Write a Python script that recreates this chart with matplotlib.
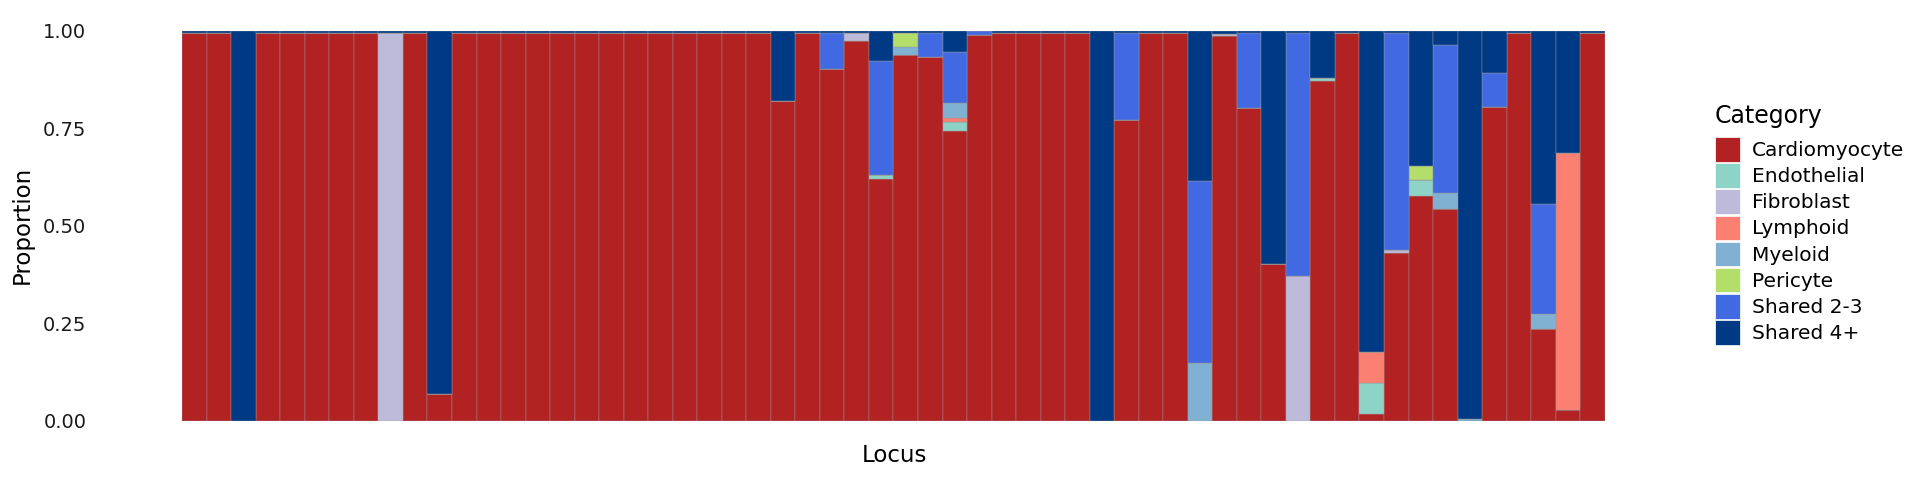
import matplotlib.pyplot as plt
from matplotlib.patches import Patch

# categorias (ordem de empilhamento, de baixo para cima)
categorias = ["Cardiomyocyte", "Endothelial", "Fibroblast", "Lymphoid",
              "Myeloid", "Pericyte", "Shared 2-3", "Shared 4+"]
cores = ["#B22222", "#8DD3C7", "#BEBADA", "#FB8072",
         "#80B1D3", "#B3DE69", "#4169E1", "#003A85"]

# proporcao de cada categoria por locus (58 loci)
cardiomyocyte = [.993, .993, 0, .993, .993, .993, .993, .993, 0, .993,
                 .068, .993, .993, .993, .993, .993, .993, .993, .993, .993,
                 .993, .993, .993, .993, .821, .993, .902, .973, .621, .939,
                 .932, .744, .990, .993, .993, .993, .993, 0, .772, .993,
                 .993, 0, .987, .801, .403, 0, .872, .993, .018, .431,
                 .577, .544, 0, .804, .993, .236, .028, .993]
endothelial = [0, 0, 0, 0, 0, 0, 0, 0, 0, 0,
               0, 0, 0, 0, 0, 0, 0, 0, 0, 0,
               0, 0, 0, 0, 0, 0, 0, 0, .008, 0,
               0, .022, 0, 0, 0, 0, 0, 0, 0, 0,
               0, 0, 0, 0, 0, 0, .007, 0, .078, 0,
               .039, 0, 0, 0, 0, 0, 0, 0]
fibroblast = [0, 0, 0, 0, 0, 0, 0, 0, .993, 0,
              0, 0, 0, 0, 0, 0, 0, 0, 0, 0,
              0, 0, 0, 0, 0, 0, 0, .020, 0, 0,
              0, 0, 0, 0, 0, 0, 0, 0, 0, 0,
              0, 0, .004, 0, 0, .372, 0, 0, 0, .008,
              0, 0, 0, 0, 0, 0, 0, 0]
lymphoid = [0, 0, 0, 0, 0, 0, 0, 0, 0, 0,
            0, 0, 0, 0, 0, 0, 0, 0, 0, 0,
            0, 0, 0, 0, 0, 0, 0, 0, 0, 0,
            0, .009, 0, 0, 0, 0, 0, 0, 0, 0,
            0, 0, 0, 0, 0, 0, 0, 0, .080, 0,
            0, 0, 0, 0, 0, 0, .658, 0]
myeloid = [0, 0, 0, 0, 0, 0, 0, 0, 0, 0,
           0, 0, 0, 0, 0, 0, 0, 0, 0, 0,
           0, 0, 0, 0, 0, 0, 0, 0, 0, .018,
           0, .039, 0, 0, 0, 0, 0, 0, 0, 0,
           0, .147, 0, 0, 0, 0, 0, 0, 0, 0,
           0, .041, .004, 0, 0, .038, 0, 0]
pericyte = [0, 0, 0, 0, 0, 0, 0, 0, 0, 0,
            0, 0, 0, 0, 0, 0, 0, 0, 0, 0,
            0, 0, 0, 0, 0, 0, 0, 0, 0, .036,
            0, 0, 0, 0, 0, 0, 0, 0, 0, 0,
            0, 0, 0, 0, 0, 0, 0, 0, 0, 0,
            .037, 0, 0, 0, 0, 0, 0, 0]
shared23 = [0, 0, 0, 0, 0, 0, 0, 0, 0, 0,
            0, 0, 0, 0, 0, 0, 0, 0, 0, 0,
            0, 0, 0, 0, 0, 0, .091, 0, .294, 0,
            .061, .131, .010, 0, 0, 0, 0, 0, .221, 0,
            0, .467, 0, .192, 0, .621, 0, 0, 0, .554,
            0, .379, 0, .088, 0, .282, 0, 0]
shared4 = [.007, .007, 1, .007, .007, .007, .007, .007, .007, .007,
           .932, .007, .007, .007, .007, .007, .007, .007, .007, .007,
           .007, .007, .007, .007, .179, .007, .007, .007, .077, .007,
           .007, .055, 0, .007, .007, .007, .007, 1, .007, .007,
           .007, .386, .009, .007, .597, .007, .121, .007, .824, .007,
           .347, .036, .996, .108, .007, .444, .314, .007]

series = [cardiomyocyte, endothelial, fibroblast, lymphoid,
          myeloid, pericyte, shared23, shared4]
loci = list(range(len(cardiomyocyte)))

fig = plt.figure(figsize=(19.2, 4.8), dpi=100)
ax = fig.add_axes([0.0949, 0.1235, 0.7409, 0.8125])

base = [0] * len(loci)
for valores, cor in zip(series, cores):
    ax.bar(loci, valores, bottom=base, width=1.0, color=cor,
           edgecolor="#9a9a9a", linewidth=0.3)
    base = [b + v for b, v in zip(base, valores)]

ax.set_xlim(-0.5, len(loci) - 0.5)
ax.set_ylim(0, 1)
ax.set_xticks([])
ax.set_yticks([0, 0.25, 0.5, 0.75, 1.0])
ax.set_yticklabels(["0.00", "0.25", "0.50", "0.75", "1.00"])
ax.tick_params(axis="y", length=0, pad=69, labelsize=14, labelcolor="#1a1a1a")
for s in ax.spines.values():
    s.set_visible(False)

fig.text(22 / 1920, 1 - 225 / 480, "Proportion", rotation=90,
         ha="center", va="center", fontsize=16.5)
fig.text(894 / 1920, 1 - 455 / 480, "Locus", ha="center", va="center",
         fontsize=16.5)

# legenda (titulo separado para controlar o espaco)
fig.text(1715 / 1920, 1 - 123 / 480, "Category", ha="left", va="baseline",
         fontsize=17)
handles = [Patch(facecolor=c, edgecolor="white", linewidth=0.5) for c in cores]
fig.legend(handles, categorias, loc="upper left",
           bbox_to_anchor=(1715 / 1920, 1 - 137 / 480),
           frameon=False, fontsize=14.5,
           handlelength=1.25, handleheight=1.5, labelspacing=0.08,
           handletextpad=0.6, borderpad=0, borderaxespad=0)

plt.savefig("out.png", dpi=100)
